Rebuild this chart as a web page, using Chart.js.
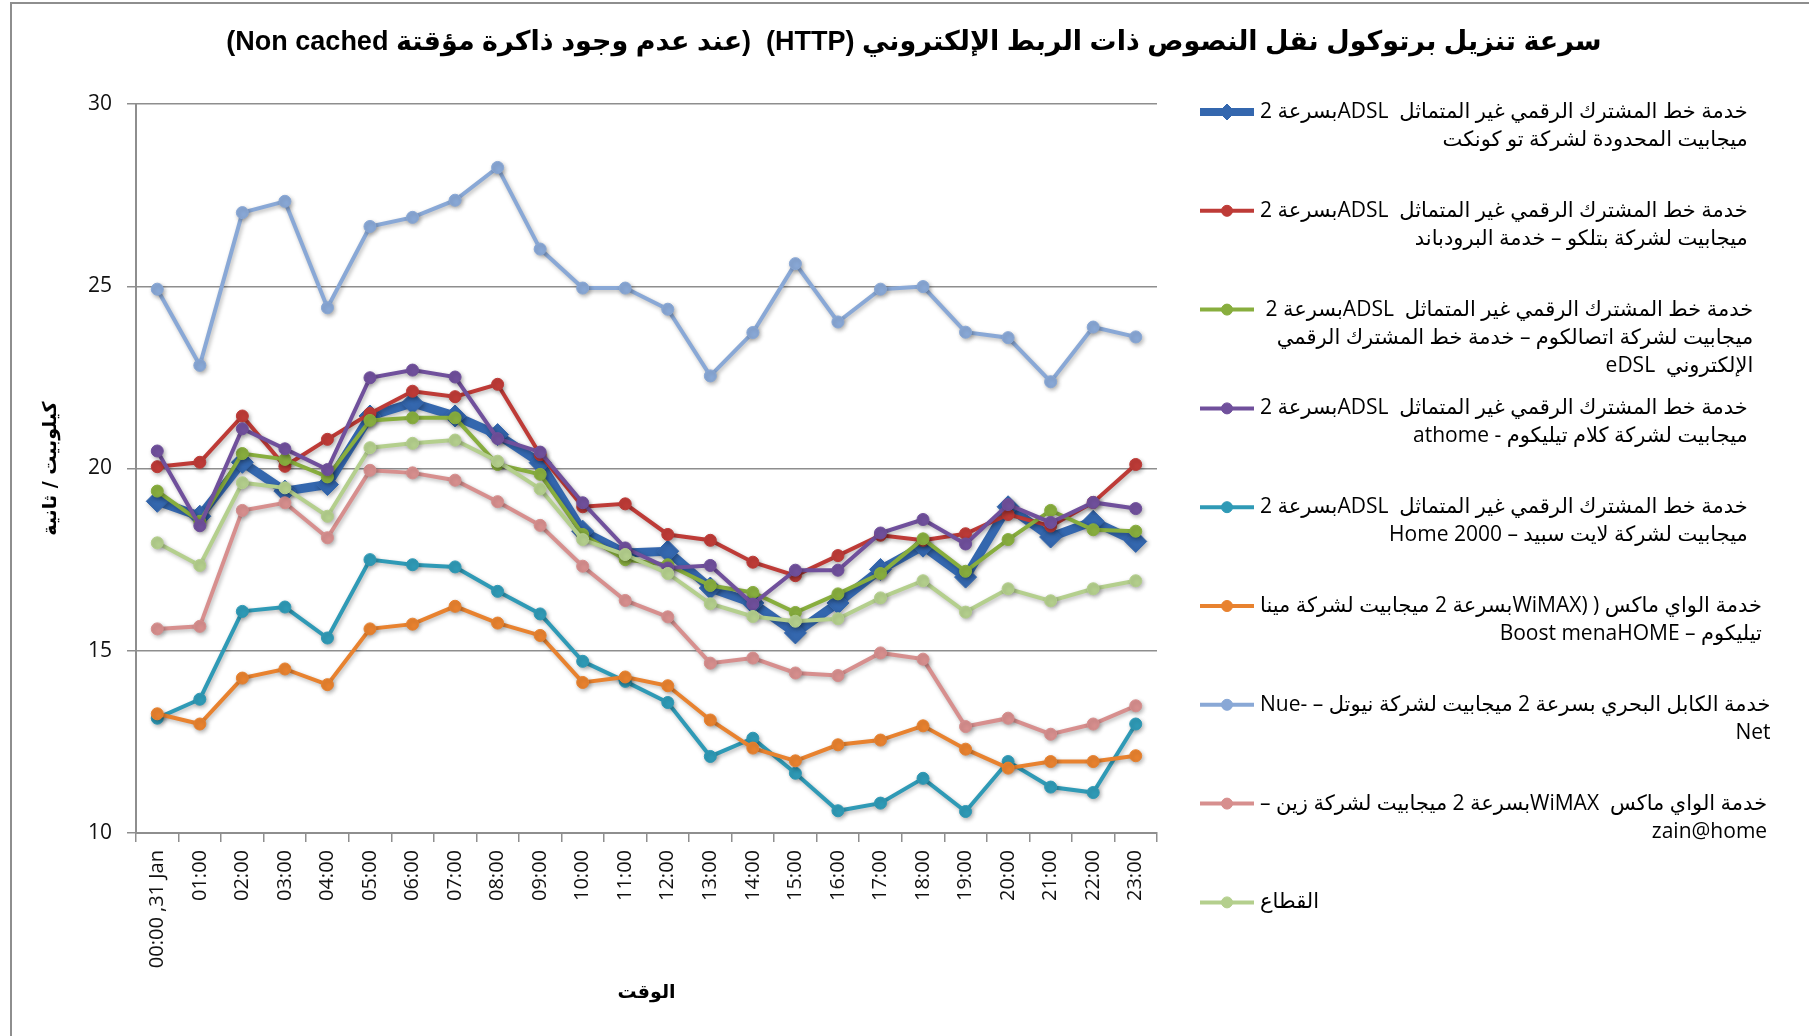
<!DOCTYPE html>
<html lang="ar">
<head>
<meta charset="utf-8">
<title>سرعة تنزيل HTTP</title>
<script src="https://cdn.jsdelivr.net/npm/chart.js@4.4.1/dist/chart.umd.min.js"></script>
<style>
    html, body { margin: 0; padding: 0; background: #fff; }
    #wrap { width: 1809px; height: 1036px; }
</style>
</head>
<body>
<div id="wrap"><canvas id="speedChart" width="1809" height="1036"></canvas></div>
<script>
const hours = ['00:00 ,31 Jan', '01:00', '02:00', '03:00', '04:00', '05:00', '06:00', '07:00',
    '08:00', '09:00', '10:00', '11:00', '12:00', '13:00', '14:00', '15:00',
    '16:00', '17:00', '18:00', '19:00', '20:00', '21:00', '22:00', '23:00'];

const yTicks = [10, 15, 20, 25, 30];

// kbit/s per hour
const twoConnect = [19.10, 18.69, 20.17, 19.38, 19.56, 21.44, 21.80, 21.44, 20.93, 20.16, 18.28, 17.68,
    17.73, 16.72, 16.31, 15.49, 16.31, 17.23, 17.87, 17.02, 18.95, 18.12, 18.55, 18.00];
const batelco = [20.05, 20.17, 21.44, 20.06, 20.80, 21.51, 22.12, 21.97, 22.31, 20.38, 18.95, 19.03,
    18.19, 18.03, 17.43, 17.06, 17.61, 18.17, 18.03, 18.21, 18.74, 18.42, 19.07, 20.11];
const etisalcom = [19.38, 18.55, 20.41, 20.25, 19.77, 21.32, 21.39, 21.39, 20.11, 19.84, 18.19, 17.50,
    17.36, 16.79, 16.60, 16.05, 16.56, 17.12, 18.07, 17.18, 18.05, 18.85, 18.32, 18.28];
const kalam = [20.48, 18.43, 21.09, 20.54, 19.97, 22.49, 22.70, 22.51, 20.82, 20.45, 19.06, 17.82,
    17.27, 17.34, 16.28, 17.21, 17.21, 18.23, 18.60, 17.93, 19.01, 18.52, 19.07, 18.90];
const lightSpeed = [13.15, 13.67, 16.08, 16.20, 15.35, 17.50, 17.36, 17.30, 16.63, 16.01, 14.71, 14.16,
    13.58, 12.10, 12.60, 11.64, 10.61, 10.82, 11.50, 10.59, 11.96, 11.26, 11.11, 12.99];
const mena = [13.27, 12.99, 14.25, 14.50, 14.07, 15.60, 15.73, 16.22, 15.76, 15.42, 14.13, 14.28,
    14.04, 13.10, 12.33, 11.98, 12.42, 12.55, 12.94, 12.30, 11.78, 11.96, 11.96, 12.12];
const nuetel = [24.92, 22.83, 27.02, 27.33, 24.41, 26.64, 26.89, 27.36, 28.26, 26.02, 24.95, 24.95,
    24.37, 22.54, 23.73, 25.62, 24.02, 24.92, 24.99, 23.74, 23.59, 22.38, 23.88, 23.61];
const zain = [15.60, 15.67, 18.85, 19.06, 18.10, 19.95, 19.88, 19.68, 19.09, 18.44, 17.32, 16.38,
    15.93, 14.66, 14.80, 14.39, 14.32, 14.94, 14.77, 12.92, 13.15, 12.71, 12.99, 13.49];
const sector = [17.96, 17.34, 19.61, 19.47, 18.69, 20.57, 20.69, 20.78, 20.20, 19.44, 18.05, 17.64,
    17.12, 16.29, 15.94, 15.81, 15.88, 16.45, 16.92, 16.06, 16.70, 16.37, 16.70, 16.92];

const seriesValues = [twoConnect, batelco, etisalcom, kalam, lightSpeed, mena, nuetel, zain, sector];

const legendLines = [
    ['خدمة خط المشترك الرقمي غير المتماثل  ADSLبسرعة 2', 'ميجابيت المحدودة لشركة تو كونكت'],
    ['خدمة خط المشترك الرقمي غير المتماثل  ADSLبسرعة 2', 'ميجابيت لشركة بتلكو – خدمة البرودباند'],
    ['خدمة خط المشترك الرقمي غير المتماثل  ADSLبسرعة 2 ', 'ميجابيت لشركة اتصالكوم – خدمة خط المشترك الرقمي', 'الإلكتروني  eDSL'],
    ['خدمة خط المشترك الرقمي غير المتماثل  ADSLبسرعة 2', 'ميجابيت لشركة كلام تيليكوم - athome'],
    ['خدمة خط المشترك الرقمي غير المتماثل  ADSLبسرعة 2', 'ميجابيت لشركة لايت سبيد – Home 2000'],
    ['خدمة الواي ماكس ( (WiMAXبسرعة 2 ميجابيت لشركة مينا', 'تيليكوم – Boost menaHOME'],
    ['خدمة الكابل البحري بسرعة 2 ميجابيت لشركة نيوتل – -Nue', 'Net'],
    ['خدمة الواي ماكس  WiMAXبسرعة 2 ميجابيت لشركة زين –', 'zain@home'],
    ['القطاع']
];

const seriesColors = ['#3467ae', '#be3b37', '#88ae3e', '#70509c', '#2f9ab6', '#e8822f', '#89a8d6', '#d78f8e', '#b4cf8d'];

const chartTitle = 'سرعة تنزيل برتوكول نقل النصوص ذات الربط الإلكتروني (HTTP)  (عند عدم وجود ذاكرة مؤقتة Non cached)';
const xTitle = 'الوقت';
const yTitle = '\u202Bكيلوبيت / ثانية\u202C';

const latinFont = '"Open Sans", "DejaVu Sans", sans-serif';

const titleAndLegend = {
    id: 'titleAndLegend',
    beforeDraw(chart) {
        const ctx = chart.ctx;
        ctx.save();
        ctx.fillStyle = '#fff';
        ctx.fillRect(0, 0, chart.width, chart.height);
        ctx.strokeStyle = '#8e8e8e';
        ctx.lineWidth = 2;
        ctx.beginPath();
        ctx.moveTo(11, chart.height);
        ctx.lineTo(11, 3);
        ctx.lineTo(chart.width, 3);
        ctx.stroke();
        ctx.restore();
    },
    beforeDatasetsDraw(chart) {
        const ctx = chart.ctx;
        ctx.save();
        ctx.shadowColor = 'rgba(0,0,0,0.28)';
        ctx.shadowBlur = 4;
        ctx.shadowOffsetX = 1.5;
        ctx.shadowOffsetY = 2;
    },
    afterDatasetsDraw(chart) {
        chart.ctx.restore();
    },
    afterDraw(chart) {
        const ctx = chart.ctx;
        ctx.save();
        ctx.direction = 'rtl';
        ctx.fillStyle = '#000';
        ctx.textBaseline = 'middle';
        ctx.textAlign = 'center';
        ctx.font = 'bold 27px "Liberation Sans", "DejaVu Sans", sans-serif';
        ctx.fillText(chartTitle, 914, 43);

        ctx.font = '21px ' + latinFont;
        ctx.textAlign = 'right';
        chart.data.datasets.forEach((ds, i) => {
            const y = 112 + i * 98.8;
            ctx.strokeStyle = ds.borderColor;
            ctx.lineWidth = i === 0 ? 8 : 4;
            ctx.beginPath();
            ctx.moveTo(1200, y);
            ctx.lineTo(1254, y);
            ctx.stroke();
            ctx.fillStyle = ds.borderColor;
            ctx.lineWidth = 1;
            Chart.helpers.drawPoint(ctx, {
                pointStyle: ds.pointStyle,
                radius: i === 0 ? 8 : 5.5,
                borderWidth: 1,
                rotation: 0
            }, 1227, y);

            const lines = legendLines[i];
            const blockWidth = Math.max(...lines.map(l => ctx.measureText(l).width));
            ctx.fillStyle = '#000';
            lines.forEach((line, j) => {
                ctx.fillText(line, 1260 + blockWidth, y + j * 28);
            });
        });
        ctx.restore();
    }
};

const datasets = seriesValues.map((values, i) => ({
    label: legendLines[i].join(' '),
    data: values,
    borderColor: seriesColors[i],
    backgroundColor: seriesColors[i],
    pointBackgroundColor: seriesColors[i],
    pointBorderColor: seriesColors[i],
    borderWidth: i === 0 ? 9 : 4,
    pointStyle: i === 0 ? 'rectRot' : 'circle',
    pointRadius: i === 0 ? 11 : 6,
    pointBorderWidth: 1,
    tension: 0,
    order: seriesValues.length - i
}));

new Chart(document.getElementById('speedChart').getContext('2d'), {
    type: 'line',
    data: { labels: hours, datasets },
    options: {
        responsive: false,
        devicePixelRatio: 1,
        animation: false,
        events: [],
        layout: { padding: { top: 104, right: 652, bottom: 0, left: 0 } },
        plugins: {
            legend: { display: false },
            title: { display: false },
            tooltip: { enabled: false }
        },
        scales: {
            x: {
                offset: true,
                grid: {
                    offset: true,
                    drawOnChartArea: false,
                    drawTicks: true,
                    tickLength: 9,
                    color: '#8e8e8e',
                    lineWidth: 1.5
                },
                border: { display: true, color: '#8e8e8e', width: 2 },
                ticks: {
                    autoSkip: false,
                    minRotation: 90,
                    maxRotation: 90,
                    padding: 8,
                    color: '#111',
                    font: { size: 20, family: latinFont }
                },
                title: {
                    display: true,
                    text: xTitle,
                    color: '#000',
                    font: { size: 19, weight: 'bold', family: '"DejaVu Sans", sans-serif' },
                    padding: { top: 0, bottom: 32 }
                },
                afterFit(scale) { scale.height = 203; }
            },
            y: {
                min: yTicks[0],
                max: yTicks[yTicks.length - 1],
                afterBuildTicks(scale) { scale.ticks = yTicks.map(v => ({ value: v })); },
                grid: {
                    color: '#8e8e8e',
                    lineWidth: 1.5,
                    drawTicks: true,
                    tickLength: 9
                },
                border: { display: true, color: '#8e8e8e', width: 2 },
                ticks: {
                    padding: 15,
                    color: '#111',
                    font: { size: 21, family: latinFont }
                },
                title: {
                    display: true,
                    text: yTitle,
                    color: '#000',
                    font: { size: 19, weight: 'bold', family: '"DejaVu Sans", sans-serif' },
                    padding: { top: 40, bottom: 0 }
                },
                afterFit(scale) { scale.width = 136; }
            }
        }
    },
    plugins: [titleAndLegend]
});
</script>
</body>
</html>
